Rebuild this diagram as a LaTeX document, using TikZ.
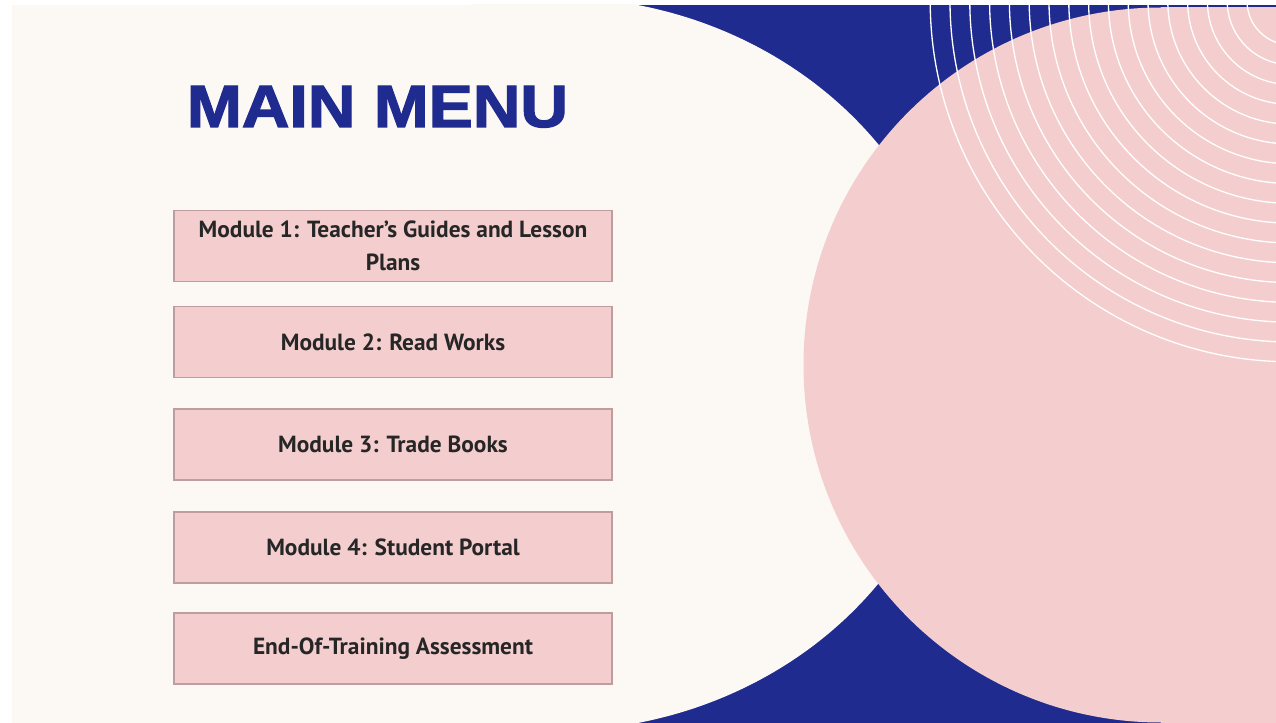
\documentclass[tikz,border=0pt]{standalone}
\usepackage{fontspec}
\setmainfont{PT Sans}
\newfontfamily\titlefont[BoldFeatures={FakeBold=2}]{Liberation Sans}
\definecolor{menublue}{HTML}{1F2B8E}
\definecolor{cream}{HTML}{FCF8F4}
\definecolor{blush}{HTML}{F4CDCE}
\definecolor{boxline}{HTML}{BF9D9F}
\definecolor{ink}{HTML}{262626}
\def\ringradius{44}
\def\ringstep{19.8}
\tikzset{menubox/.style={draw=boxline, line width=0.8pt, fill=blush, minimum width=8.76cm, minimum height=1.42cm, align=center, text=ink, font=\bfseries\fontsize{13.3}{18.8}\selectfont}}

\begin{document}
\begin{tikzpicture}[x=0.02cm, y=-0.02cm]
  \useasboundingbox (0,0) rectangle (1276,723);
  \fill [menublue] (12,5) rectangle (1276,723);
  \begin{scope}
    \clip (12,5) rectangle (1276,723);
    \fill [cream] (12,5) rectangle (553,723);
    \fill [cream] (553,364) ellipse [x radius=406, y radius=367];
    \fill [blush] (1161,365) circle [radius=357.5];
    \fill [blush] (1161,7) rectangle (1276,723);
    \foreach \k in {0,...,16}
      \draw [white, line width=0.75pt] (1291,1) circle [radius=\ringradius+\ringstep*\k];
  \end{scope}

  \node (title) [anchor=base, inner sep=0, text=menublue, font=\titlefont\bfseries\fontsize{34}{34}\selectfont] at (377.5,127) {\scalebox{1.105}[1]{MAIN MENU}};

  \node (m1) [menubox] at (393,246) {Module 1: Teacher’s Guides and Lesson\\Plans};
  \node (m2) [menubox] at (393,342) {Module 2: Read Works};
  \node (m3) [menubox] at (393,444.5) {Module 3: Trade Books};
  \node (m4) [menubox] at (393,547.5) {Module 4: Student Portal};
  \node (m5) [menubox] at (393,648.5) {End-Of-Training Assessment};

\end{tikzpicture}
\end{document}
